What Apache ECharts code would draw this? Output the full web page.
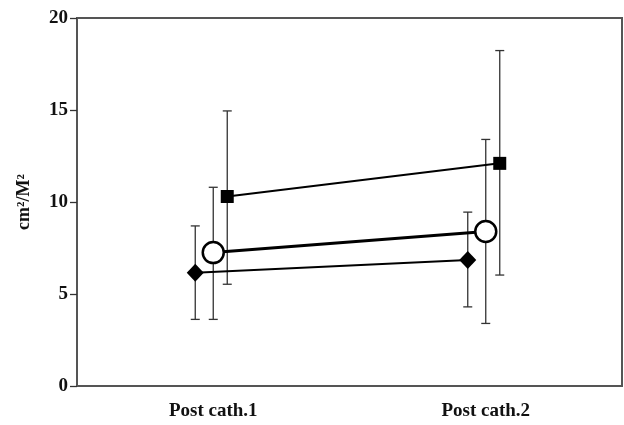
<!DOCTYPE html>
<html>
<head>
<meta charset="utf-8">
<script src="https://cdn.jsdelivr.net/npm/echarts@6/dist/echarts.min.js"></script>
<style>html,body{margin:0;padding:0;background:#fff;}#c{width:624px;height:425px;}</style>
</head>
<body>
<div id="c"></div>
<script>
const categories = ['Post cath.1', 'Post cath.2'];
const yTicks = [0, 5, 10, 15, 20];

const diamondMean = [6.15, 6.85];
const diamondLow  = [3.62, 4.30];
const diamondHigh = [8.70, 9.45];

const circleMean = [7.25, 8.40];
const circleLow  = [3.62, 3.40];
const circleHigh = [10.80, 13.40];

const squareMean = [10.30, 12.10];
const squareLow  = [5.53, 6.03];
const squareHigh = [14.95, 18.23];

const FONT = '"Liberation Serif", "Times New Roman", serif';

const groups = [
  { name: 'diamond', mean: diamondMean, low: diamondLow, high: diamondHigh, off: -18,
    symbol: 'diamond', size: [17, 18], fill: '#000', border: '#000', bw: 0, lw: 2 },
  { name: 'circle', mean: circleMean, low: circleLow, high: circleHigh, off: 0,
    symbol: 'circle', size: 21, fill: '#fff', border: '#000', bw: 2.5, lw: 3 },
  { name: 'square', mean: squareMean, low: squareLow, high: squareHigh, off: 14,
    symbol: 'rect', size: 13, fill: '#000', border: '#000', bw: 0, lw: 2 }
];

const series = [];
groups.forEach(g => {
  series.push({
    type: 'custom', name: g.name + '-err', z: 1,
    data: g.mean.map((m, i) => [i, g.low[i], g.high[i]]),
    renderItem: function (params, api) {
      const lo = api.coord([api.value(0), api.value(1)]);
      const hi = api.coord([api.value(0), api.value(2)]);
      const x = lo[0] + g.off;
      const hw = 4.5;
      const st = { stroke: '#333', lineWidth: 1.3 };
      return { type: 'group', children: [
        { type: 'line', shape: { x1: x, y1: lo[1], x2: x, y2: hi[1] }, style: st },
        { type: 'line', shape: { x1: x - hw, y1: lo[1], x2: x + hw, y2: lo[1] }, style: st },
        { type: 'line', shape: { x1: x - hw, y1: hi[1], x2: x + hw, y2: hi[1] }, style: st }
      ]};
    }
  });
  series.push({
    type: 'custom', name: g.name + '-line', z: 2,
    data: [[0, g.mean[0], 1, g.mean[1]]],
    renderItem: function (params, api) {
      const a = api.coord([api.value(0), api.value(1)]);
      const b = api.coord([api.value(2), api.value(3)]);
      return { type: 'line',
        shape: { x1: a[0] + g.off, y1: a[1], x2: b[0] + g.off, y2: b[1] },
        style: { stroke: '#000', lineWidth: g.lw } };
    }
  });
  series.push({
    type: 'scatter', name: g.name, z: 3,
    data: g.mean,
    symbol: g.symbol, symbolSize: g.size, symbolOffset: [g.off, 0],
    itemStyle: { color: g.fill, borderColor: g.border, borderWidth: g.bw, opacity: 1 }
  });
});

const chart = echarts.init(document.getElementById('c'), null, { renderer: 'canvas' });
chart.setOption({
  animation: false,
  backgroundColor: '#fff',
  grid: { left: 77, right: 2, top: 18, bottom: 39, show: true, borderColor: '#555', borderWidth: 2 },
  xAxis: {
    type: 'category', data: categories, boundaryGap: true,
    axisLine: { lineStyle: { color: '#555', width: 2 } },
    axisTick: { show: false },
    axisLabel: { fontFamily: FONT, fontWeight: 'bold', fontSize: 19, color: '#111', margin: 16 }
  },
  yAxis: {
    type: 'value', min: yTicks[0], max: yTicks[yTicks.length - 1], interval: 5,
    name: 'cm²/M²', nameLocation: 'middle', nameGap: 44,
    nameTextStyle: { fontFamily: FONT, fontWeight: 'bold', fontSize: 18, color: '#111' },
    axisLine: { show: true, lineStyle: { color: '#555', width: 2 } },
    axisTick: { show: true, inside: false, length: 7, lineStyle: { color: '#333', width: 1.3 } },
    splitLine: { show: false },
    axisLabel: { fontFamily: FONT, fontWeight: 'bold', fontSize: 19, color: '#111', margin: 9 }
  },
  series: series
});
</script>
</body>
</html>
